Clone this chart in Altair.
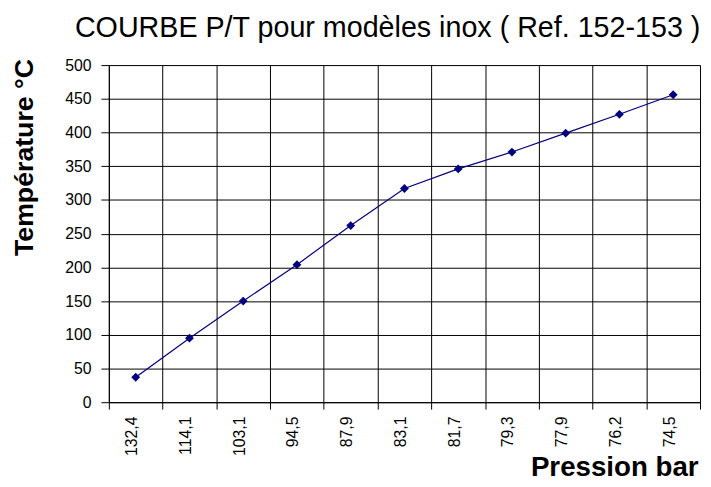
import altair as alt
import pandas as pd

pressions = ["132,4", "114,1", "103,1", "94,5", "87,9", "83,1", "81,7", "79,3", "77,9", "76,2", "74,5"]
temperatures = [37, 95, 150, 204, 262, 317, 346, 371, 399, 427, 456]
title_text = ["COURBE P/T pour modèles inox ( Ref. 152-153 )"]

df = pd.DataFrame({"Pression": pressions, "Temperature": temperatures})
df_title = pd.DataFrame({"t": title_text})

FONT = "Liberation Sans"
NAVY = "#000080"

x = alt.X(
    "Pression:N",
    sort=pressions,
    scale=alt.Scale(paddingInner=0, paddingOuter=0),
    axis=alt.Axis(
        title="Pression bar",
        titleFont=FONT, titleFontSize=28, titleFontWeight="bold", titleColor="black",
        titleAlign="right", titleX=596, titleY=74, titleBaseline="alphabetic",
        labelAngle=-90, labelFont=FONT, labelFontSize=16, labelColor="black",
        labelPadding=7, labelOffset=-4,
        tickBand="extent", tickSize=7, tickColor="black", tickWidth=1,
        domainColor="black", domainWidth=1,
        grid=True, gridColor="black", gridWidth=1, gridOpacity=1,
    ),
)
y = alt.Y(
    "Temperature:Q",
    scale=alt.Scale(domain=[0, 500], nice=False),
    axis=alt.Axis(
        title="Température °C",
        titleFont=FONT, titleFontSize=27, titleFontWeight="bold", titleColor="black",
        titleX=-85, titleY=93, titleAlign="center", titleBaseline="middle", titleAngle=270,
        values=list(range(0, 501, 50)),
        labelFont=FONT, labelFontSize=16, labelColor="black", labelPadding=10,
        tickSize=8, tickColor="black", tickWidth=1,
        domainColor="black", domainWidth=1,
        grid=True, gridColor="black", gridWidth=1, gridOpacity=1,
    ),
)

base = alt.Chart(df)
line = base.mark_line(color=NAVY, strokeWidth=1.2).encode(x=x, y=y)
pts = base.mark_point(shape="diamond", filled=True, color=NAVY, size=80, opacity=1).encode(x=x, y=y)

title = alt.Chart(df_title).mark_text(
    font=FONT, fontSize=29, color="black", align="center", baseline="alphabetic"
).encode(text="t:N", x=alt.value(282), y=alt.value(-28))

chart = (
    alt.layer(line, pts, title)
    .properties(
        width=598,
        height=341,
        autosize=alt.AutoSizeParams(type="none"),
        padding={"left": 102, "top": 55, "right": 3, "bottom": 80},
    )
    .configure_view(stroke=None)
    .configure(background="white")
)

chart.save("out.html", embed_options={"renderer": "svg", "actions": False})
